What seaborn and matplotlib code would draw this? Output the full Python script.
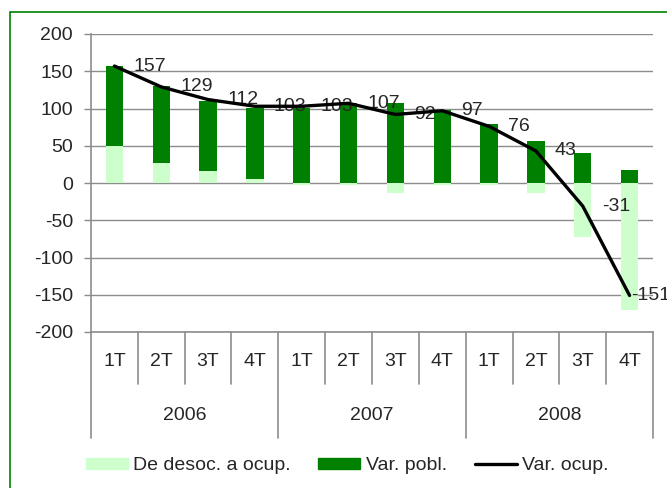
import numpy as np
import pandas as pd
import matplotlib.pyplot as plt
import seaborn as sns
from matplotlib.patches import Patch, Rectangle
from matplotlib.lines import Line2D

# data (thousands)
years = ["2006", "2007", "2008"]
quarters = ["1T", "2T", "3T", "4T"]
desoc_ocup = [50, 27, 16, 5, -3, -3, -14, -3, -3, -14, -72, -170]
var_pobl = [107, 103, 94, 96, 101, 108, 107, 98, 79, 57, 40, 18]
var_ocup = [157, 129, 112, 103, 103, 107, 92, 97, 76, 43, -31, -151]

keys = [f"{y} {q}" for y in years for q in quarters]
df = pd.DataFrame({"key": keys, "desoc": desoc_ocup, "pobl": var_pobl, "ocup": var_ocup})
# dark bar sits on top of the positive part of the light one
df["pobl_top"] = df["desoc"].clip(lower=0) + df["pobl"]
df["pos"] = np.arange(len(df))

sns.set_style("white")
plt.rcParams["font.family"] = ["Liberation Sans", "DejaVu Sans"]
plt.rcParams["axes.unicode_minus"] = False

LIGHT = "#ccffcc"
DARK = "#008000"
GRID = "#8c8c8c"
FS = 14

fig = plt.figure(figsize=(6.67, 4.88), dpi=100)
ax = fig.add_axes([91 / 667, 1 - 332 / 488, (653 - 91) / 667, (332 - 34) / 488])

sns.barplot(data=df, x="key", y="pobl_top", order=keys, color=DARK, width=0.37,
            saturation=1, linewidth=0, ax=ax, zorder=2)
sns.barplot(data=df, x="key", y="desoc", order=keys, color=LIGHT, width=0.37,
            saturation=1, linewidth=0, ax=ax, zorder=3)
sns.lineplot(data=df, x="pos", y="ocup", color="black", linewidth=2.4, ax=ax, zorder=6)

for i, v in enumerate(var_ocup):
    dx = 2 if i == len(var_ocup) - 1 else 19
    ax.annotate(str(v), (i, v), xytext=(dx, 0), textcoords="offset pixels",
                ha="left", va="center", fontsize=FS, zorder=5)

ax.set_xlim(-0.5, 11.5)
ax.set_ylim(-200, 200)
ax.set_yticks(range(-200, 201, 50))
ax.tick_params(axis="y", length=5, width=1, color=GRID, pad=8, labelsize=FS, left=True)
ax.yaxis.grid(True, color=GRID, linewidth=1.0, zorder=0)
ax.set_axisbelow(True)
ax.set_xticks([])
ax.set_xlabel("")
ax.set_ylabel("")
for s in ["top", "right"]:
    ax.spines[s].set_visible(False)
for s in ["left", "bottom"]:
    ax.spines[s].set_color(GRID)
    ax.spines[s].set_linewidth(1.2)

# two-level category axis
tr = ax.get_xaxis_transform()
h = 298
for b in np.arange(-0.5, 12, 1):
    low = -106 / h if (b + 0.5) % 4 == 0 else -52 / h
    ax.plot([b, b], [0, low], transform=tr, color=GRID, lw=1.2, clip_on=False)
for i, k in enumerate(keys):
    ax.text(i, -30 / h, k.split()[1], transform=tr, ha="center", va="center",
            fontsize=FS, clip_on=False)
for j, y in enumerate(years):
    ax.text(4 * j + 1.5, -84 / h, y, transform=tr, ha="center", va="center",
            fontsize=FS, clip_on=False)

handles = [Patch(color=LIGHT), Patch(color=DARK), Line2D([], [], color="black", lw=2.4)]
labels = ["De desoc. a ocup.", "Var. pobl.", "Var. ocup."]
fig.legend(handles, labels, loc="center", bbox_to_anchor=(347 / 667, 1 - 466 / 488),
           ncol=3, frameon=False, fontsize=FS, handlelength=2.16, handleheight=0.5,
           handletextpad=0.26, columnspacing=1.45)

# green chart frame (cut off on the right and bottom)
fig.patches.append(Rectangle((10 / 667, -0.1), 1.2, 1 - 12 / 488 + 0.1, transform=fig.transFigure,
                             fill=False, edgecolor="#008000", lw=1.2))

fig.savefig("out.png", dpi=100)
